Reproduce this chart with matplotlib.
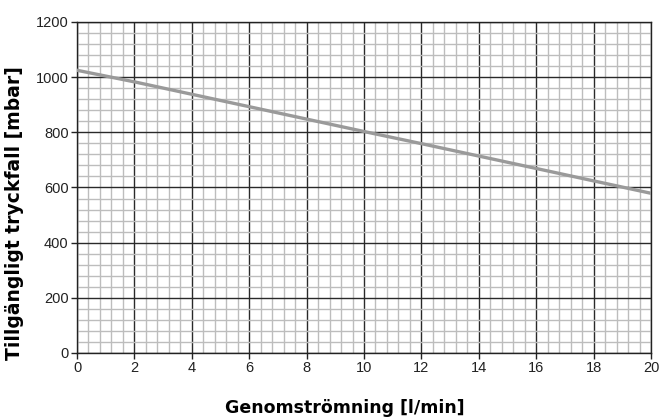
import matplotlib
matplotlib.use("Agg")
import matplotlib.pyplot as plt
import numpy as np

# flow [l/min] vs available pressure drop [mbar]
flow = [0, 2, 4, 6, 8, 10, 12, 14, 16, 18, 20]
pressure = [1025, 983, 938, 893, 848, 803, 759, 714, 669, 624, 579]

x_ticks = [0, 2, 4, 6, 8, 10, 12, 14, 16, 18, 20]
y_ticks = [0, 200, 400, 600, 800, 1000, 1200]

fig = plt.figure(figsize=(6.63, 4.2), dpi=100)
ax = fig.add_axes([77 / 663, 1 - 353 / 420, 574 / 663, 331 / 420])

ax.set_xlim(0, 20)
ax.set_ylim(0, 1200)
ax.set_xticks(x_ticks)
ax.set_yticks(y_ticks)
ax.set_xticks(np.arange(0, 20.01, 0.4), minor=True)
ax.set_yticks(np.arange(0, 1200.1, 40), minor=True)

ax.grid(which="minor", color="#bdbdbd", linewidth=1.0)
ax.grid(which="major", color="#2a2a2a", linewidth=1.0)
ax.set_axisbelow(True)

ax.plot(flow, pressure, color="#9a9a9a", linewidth=2.4, zorder=3)

for s in ax.spines.values():
    s.set_color("#222222")
    s.set_linewidth(1.0)

ax.tick_params(which="major", length=4, width=1, labelsize=10.5, colors="#222222", pad=2)
ax.tick_params(which="minor", length=0)
for lbl in ax.get_xticklabels() + ax.get_yticklabels():
    lbl.set_fontfamily("Liberation Sans")

ax.set_xlabel("Genomströmning [l/min]", fontsize=12.5, fontweight="bold")
ax.xaxis.set_label_coords(268 / 574, -46 / 331)
ax.set_ylabel("Tillgängligt tryckfall [mbar]", fontsize=13.5, fontweight="bold")
ax.yaxis.set_label_coords(-53 / 574, 0.424)

fig.savefig("out.png", dpi=100)
